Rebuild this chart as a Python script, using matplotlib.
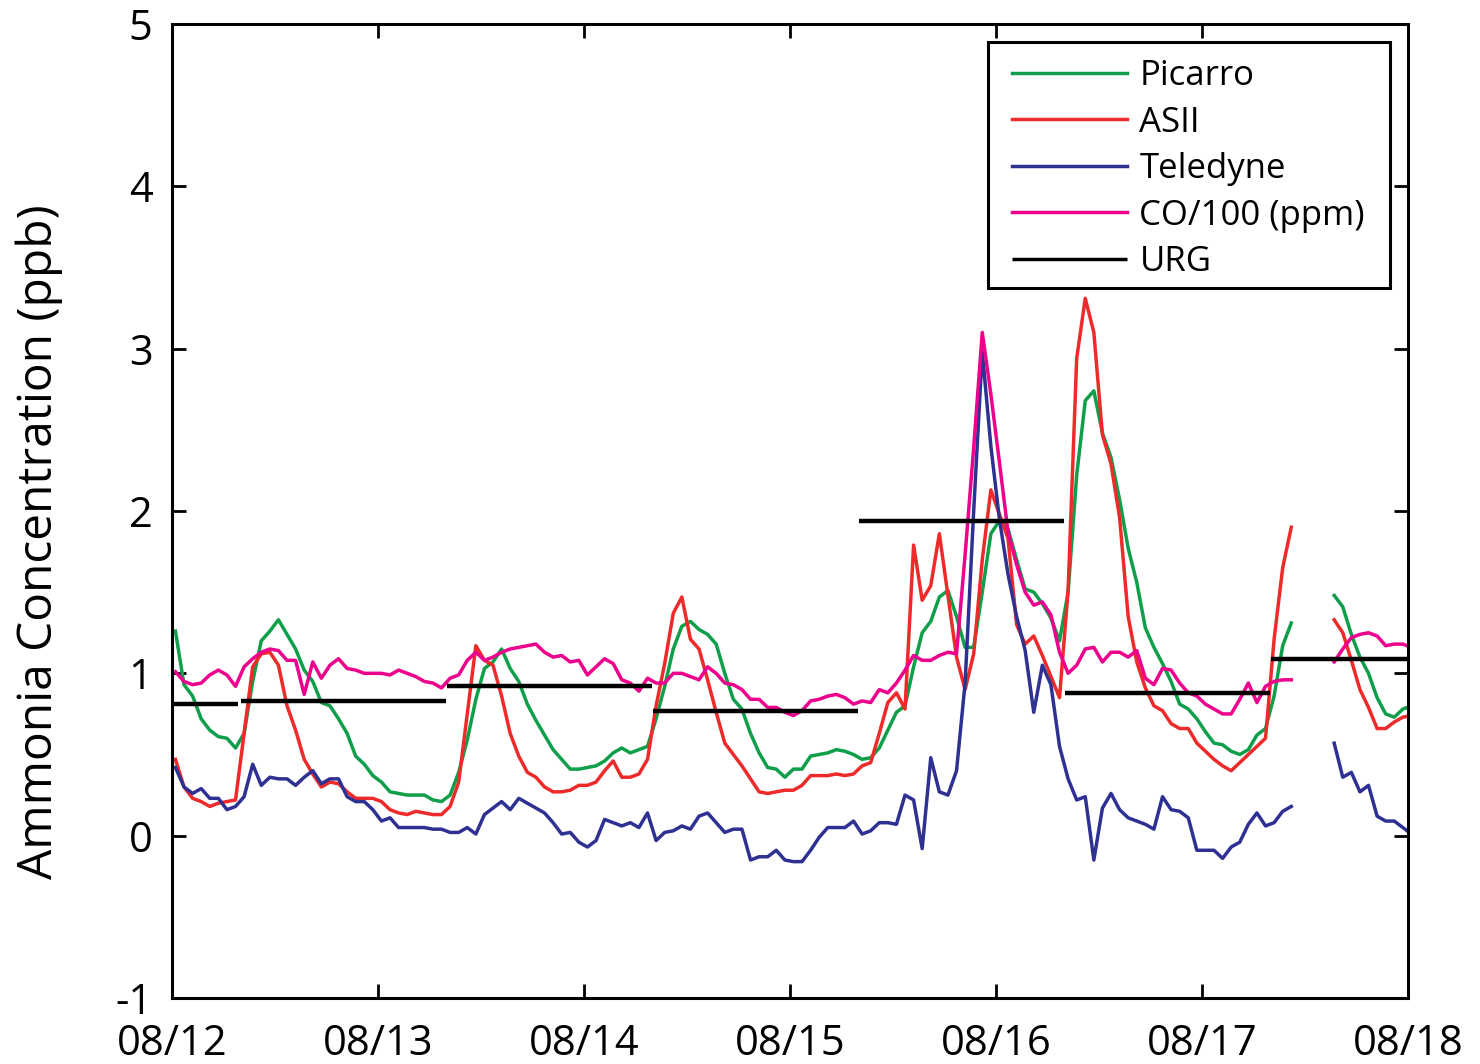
import numpy as np
import matplotlib
matplotlib.use("Agg")
import matplotlib.pyplot as plt
from matplotlib.patches import Rectangle

plt.rcParams['font.family'] = ['Open Sans', 'DejaVu Sans']

# Hourly samples, hours counted from 08/12 00:00 (NaN = no data)
nan = np.nan
sample_hours = np.arange(145) + 0.4

picarro = [
    1.26, 0.93, 0.86, 0.72, 0.65, 0.61, 0.60, 0.54, 0.63, 0.95, 1.20, 1.26,
    1.33, 1.24, 1.15, 1.02, 0.95, 0.82, 0.80, 0.72, 0.63, 0.49, 0.44, 0.37,
    0.33, 0.27, 0.26, 0.25, 0.25, 0.25, 0.22, 0.21, 0.25, 0.39, 0.59, 0.84,
    1.03, 1.07, 1.15, 1.03, 0.95, 0.81, 0.71, 0.62, 0.53, 0.47, 0.41, 0.41,
    0.42, 0.43, 0.46, 0.51, 0.54, 0.51, 0.53, 0.55, 0.72, 0.92, 1.15, 1.29,
    1.32, 1.27, 1.24, 1.18, 1.00, 0.84, 0.78, 0.63, 0.51, 0.42, 0.41, 0.36,
    0.41, 0.41, 0.49, 0.50, 0.51, 0.53, 0.52, 0.50, 0.47, 0.48, 0.54, 0.65,
    0.76, 0.80, 1.04, 1.25, 1.32, 1.47, 1.51, 1.35, 1.16, 1.16, 1.50, 1.86,
    1.94, 1.89, 1.70, 1.52, 1.50, 1.43, 1.34, 1.20, 1.50, 2.22, 2.68, 2.74,
    2.48, 2.33, 2.07, 1.77, 1.56, 1.28, 1.16, 1.06, 0.95, 0.81, 0.78, 0.72,
    0.64, 0.57, 0.56, 0.52, 0.50, 0.53, 0.62, 0.66, 0.86, 1.17, 1.31,
    nan, nan, nan, nan,
    1.48, 1.41, 1.24, 1.10, 1.00, 0.85, 0.75, 0.73, 0.78, 0.80,
]

asii = [
    0.47, 0.30, 0.23, 0.21, 0.18, 0.20, 0.21, 0.22, 0.63, 1.04, 1.12, 1.13,
    1.05, 0.80, 0.65, 0.47, 0.38, 0.30, 0.33, 0.32, 0.27, 0.23, 0.23, 0.23,
    0.21, 0.16, 0.14, 0.13, 0.15, 0.14, 0.13, 0.13, 0.18, 0.33, 0.75, 1.17,
    1.08, 1.05, 0.86, 0.63, 0.49, 0.39, 0.36, 0.30, 0.27, 0.27, 0.28, 0.31,
    0.31, 0.33, 0.40, 0.46, 0.36, 0.36, 0.38, 0.47, 0.80, 1.06, 1.37, 1.47,
    1.21, 1.15, 0.96, 0.76, 0.57, 0.50, 0.43, 0.35, 0.27, 0.26, 0.27, 0.28,
    0.28, 0.31, 0.37, 0.37, 0.37, 0.38, 0.37, 0.38, 0.43, 0.45, 0.63, 0.82,
    0.88, 0.78, 1.79, 1.45, 1.54, 1.86, 1.48, 1.10, 0.90, 1.12, 1.70, 2.13,
    1.98, 1.83, 1.30, 1.18, 1.23, 1.11, 0.98, 0.85, 1.51, 2.94, 3.31, 3.10,
    2.47, 2.29, 1.96, 1.35, 1.07, 0.91, 0.80, 0.77, 0.69, 0.66, 0.66, 0.57,
    0.52, 0.47, 0.43, 0.40, 0.45, 0.50, 0.55, 0.60, 1.21, 1.65, 1.90,
    nan, nan, nan, nan,
    1.33, 1.25, 1.08, 0.90, 0.79, 0.66, 0.66, 0.70, 0.73, 0.74,
]

teledyne = [
    0.42, 0.30, 0.26, 0.29, 0.23, 0.23, 0.16, 0.18, 0.24, 0.44, 0.31, 0.36,
    0.35, 0.35, 0.31, 0.36, 0.40, 0.32, 0.35, 0.35, 0.24, 0.21, 0.21, 0.16,
    0.09, 0.11, 0.05, 0.05, 0.05, 0.05, 0.04, 0.04, 0.02, 0.02, 0.05, 0.01,
    0.13, 0.17, 0.21, 0.16, 0.23, 0.20, 0.17, 0.14, 0.08, 0.01, 0.02, -0.04,
    -0.07, -0.03, 0.10, 0.08, 0.06, 0.08, 0.05, 0.14, -0.03, 0.02, 0.03, 0.06,
    0.04, 0.12, 0.14, 0.08, 0.02, 0.04, 0.04, -0.15, -0.13, -0.13, -0.09, -0.15,
    -0.16, -0.16, -0.09, -0.01, 0.05, 0.05, 0.05, 0.09, 0.01, 0.03, 0.08, 0.08,
    0.07, 0.25, 0.22, -0.08, 0.48, 0.27, 0.25, 0.40, 0.94, 2.00, 2.98, 2.40,
    1.95, 1.61, 1.35, 1.14, 0.76, 1.05, 0.93, 0.55, 0.35, 0.22, 0.24, -0.15,
    0.17, 0.26, 0.16, 0.11, 0.09, 0.07, 0.04, 0.24, 0.16, 0.15, 0.11, -0.09,
    -0.09, -0.09, -0.14, -0.07, -0.04, 0.07, 0.14, 0.06, 0.08, 0.15, 0.18,
    nan, nan, nan, nan,
    0.57, 0.36, 0.39, 0.27, 0.31, 0.12, 0.09, 0.09, 0.05, 0.01,
]

co_over_100 = [
    1.01, 0.95, 0.93, 0.94, 0.99, 1.02, 0.99, 0.92, 1.04, 1.09, 1.13, 1.15,
    1.14, 1.08, 1.08, 0.87, 1.07, 0.97, 1.05, 1.09, 1.03, 1.02, 1.00, 1.00,
    1.00, 0.99, 1.02, 1.00, 0.98, 0.95, 0.94, 0.91, 0.97, 0.99, 1.08, 1.13,
    1.08, 1.10, 1.13, 1.15, 1.16, 1.17, 1.18, 1.13, 1.10, 1.11, 1.07, 1.08,
    0.99, 1.04, 1.09, 1.06, 0.96, 0.94, 0.89, 0.97, 0.94, 0.94, 1.00, 1.00,
    0.98, 0.96, 1.04, 1.00, 0.94, 0.93, 0.90, 0.84, 0.84, 0.79, 0.79, 0.76,
    0.74, 0.77, 0.83, 0.84, 0.86, 0.87, 0.85, 0.81, 0.83, 0.82, 0.90, 0.88,
    0.94, 1.02, 1.11, 1.08, 1.08, 1.11, 1.13, 1.12, 1.73, 2.39, 3.10, 2.72,
    2.30, 1.87, 1.67, 1.50, 1.42, 1.44, 1.36, 1.13, 1.00, 1.05, 1.15, 1.16,
    1.07, 1.13, 1.13, 1.10, 1.14, 0.97, 0.93, 1.03, 1.02, 0.94, 0.88, 0.86,
    0.81, 0.78, 0.75, 0.75, 0.84, 0.94, 0.82, 0.92, 0.95, 0.96, 0.96,
    nan, nan, nan, nan,
    1.07, 1.15, 1.22, 1.24, 1.25, 1.23, 1.17, 1.18, 1.18, 1.16,
]

# URG denuder samples: start/end in days from 08/12 00:00 and mean value
urg_start = [0.0, 0.335, 1.335, 2.335, 3.335, 4.335, 5.335]
urg_end = [0.32, 1.33, 2.33, 3.33, 4.33, 5.33, 6.0]
urg_value = [0.81, 0.83, 0.92, 0.77, 1.94, 0.88, 1.09]

day_labels = ["08/12", "08/13", "08/14", "08/15", "08/16", "08/17", "08/18"]
y_ticks = [-1, 0, 1, 2, 3, 4, 5]

c_green = "#0f9f4a"
c_red = "#ee2a2a"
c_blue = "#2e3192"
c_mag = "#ec008c"

fig = plt.figure(figsize=(14.8, 10.64), dpi=100)
ax = fig.add_axes([172 / 1480, 1 - 998 / 1064, 1236 / 1480, 974 / 1064])

t = sample_hours / 24.0
lw = 2.5
ax.plot(t, picarro, color=c_green, lw=lw, label="Picarro")
ax.plot(t, asii, color=c_red, lw=lw, label="ASII")
ax.plot(t, teledyne, color=c_blue, lw=lw, label="Teledyne")
ax.plot(t, co_over_100, color=c_mag, lw=lw, label="CO/100 (ppm)")
for i, (s, e, v) in enumerate(zip(urg_start, urg_end, urg_value)):
    ax.plot([s, e], [v, v], color="black", lw=3.2,
            label="URG" if i == 0 else None, solid_capstyle="butt")

ax.set_xlim(0, 6)
ax.set_ylim(-1, 5)
ax.set_xticks(range(len(day_labels)))
ax.set_xticklabels(day_labels)
ax.set_yticks(y_ticks)
ax.set_yticklabels([str(v) for v in y_ticks])
ax.tick_params(axis="both", which="both", direction="in", length=10, width=2,
               top=True, right=True, labelsize=30, color="black")
ax.tick_params(axis="y", pad=14)
ax.tick_params(axis="x", pad=18)
for sp in ax.spines.values():
    sp.set_linewidth(2.2)

ax.set_ylabel("Ammonia Concentration (ppb)", fontsize=34.5)
ax.yaxis.set_label_coords(-0.088, 0.468)

# Legend entries without their own frame; a separate box surrounds them
leg = ax.legend(loc="upper left", bbox_to_anchor=(0.6796, 0.964),
                borderaxespad=0, fontsize=25, frameon=False,
                handlelength=3.3, handletextpad=0.37, labelspacing=0.36,
                borderpad=0)
for h in leg.legend_handles:
    h.set_linewidth(2.5)
ax.add_patch(Rectangle((0.6602, 0.7290), 0.9854 - 0.6602, 0.9815 - 0.7290,
                       transform=ax.transAxes, fill=True, facecolor="white",
                       edgecolor="black", linewidth=2.2, zorder=4.9))
leg.set_zorder(5)

fig.savefig("out.png", dpi=100)
